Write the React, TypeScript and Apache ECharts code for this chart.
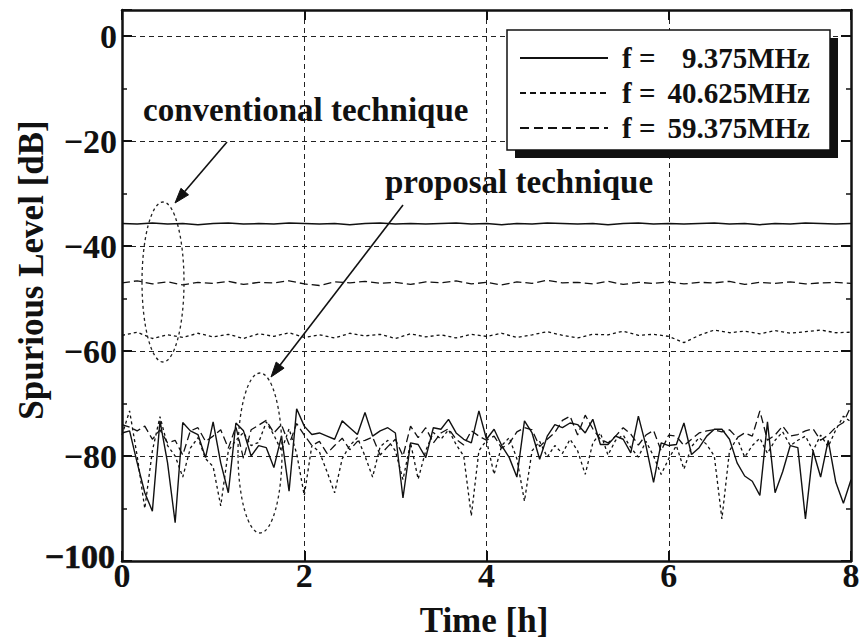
import React, { useEffect, useRef } from "react";
import * as echarts from "echarts";

const FONT = "'Liberation Serif', 'Times New Roman', Times, serif";

// sampling intervals in hours
const SAMPLE_STEP_H = 1 / 12; // proposal technique: every 5 min
const CONV_STEP_H = 1 / 6; // conventional technique: every 10 min

const LEGEND_LABELS = ["9.375MHz", "40.625MHz", "59.375MHz"];
const Y_MIN_LABEL = "\u2212100";

// Proposal technique, f = 9.375 MHz (solid)
const prop9 = [
  -75.6, -75.2, -81.3, -87.0, -90.5, -73.3, -81.3, -92.7, -73.6, -75.2, -75.9, -80.3,
  -73.5, -81.3, -87.0, -73.7, -75.2, -80.0, -78.0, -78.4, -82.2, -76.2, -86.7, -71.0,
  -74.3, -75.9, -75.6, -76.2, -76.8, -73.3, -74.6, -75.9, -71.7, -76.2, -75.2, -74.6,
  -75.6, -88.0, -77.5, -77.8, -80.3, -74.6, -74.9, -73.0, -75.6, -76.8, -77.5, -71.4,
  -76.8, -74.9, -78.0, -80.3, -84.0, -73.3, -75.6, -80.6, -76.2, -74.0, -74.6, -73.7,
  -74.0, -75.6, -73.0, -77.8, -77.8, -76.2, -76.8, -79.4, -72.4, -78.0, -85.0, -77.5,
  -78.0, -77.8, -73.7, -79.7, -78.4, -76.2, -74.9, -74.9, -76.8, -81.3, -83.8, -84.8,
  -87.5, -73.5, -87.0, -83.0, -78.0, -78.4, -92.0, -79.0, -84.0, -77.0, -85.0, -89.0,
  -84.5,
];

// Proposal technique, f = 40.625 MHz (dotted)
const prop40 = [
  -76.0, -71.4, -80.0, -90.0, -79.0, -72.5, -78.0, -80.0, -84.0, -78.5, -76.5, -80.5,
  -82.0, -89.5, -79.0, -77.0, -75.5, -78.0, -77.4, -73.5, -76.0, -79.0, -74.8, -79.5,
  -87.5, -78.0, -79.2, -83.0, -87.0, -80.5, -78.0, -76.5, -80.0, -84.0, -78.2, -77.0,
  -79.0, -84.5, -77.5, -84.4, -79.0, -75.5, -76.8, -75.0, -77.8, -80.0, -91.4, -79.0,
  -77.0, -83.5, -78.0, -76.5, -80.5, -88.6, -79.0, -77.2, -80.2, -78.0, -79.5, -76.8,
  -79.0, -83.5, -77.5, -75.6, -79.8, -77.0, -76.0, -78.4, -80.2, -77.2, -80.0, -83.5,
  -80.5, -78.0, -82.5, -78.2, -76.5, -77.8, -80.0, -92.0, -79.0, -76.6, -80.2, -78.0,
  -76.6, -79.5, -77.0, -75.4, -78.0, -77.0, -76.2, -79.0, -76.0, -78.2, -75.0, -72.4,
  -73.5,
];

// Proposal technique, f = 59.375 MHz (dashed)
const prop59 = [
  -74.0, -74.5, -75.2, -74.3, -76.8, -75.0, -77.5, -77.0, -79.8, -75.2, -74.6, -77.2,
  -76.2, -75.0, -78.5, -74.4, -80.5, -75.0, -74.1, -73.2, -75.6, -74.0, -77.8, -73.8,
  -76.0, -78.0, -77.2, -79.5, -78.0, -76.6, -78.8, -77.2, -77.0, -76.4, -79.8, -78.2,
  -76.8, -80.0, -74.3, -76.5, -74.6, -77.5, -75.6, -74.8, -76.8, -77.9, -75.2, -76.2,
  -77.0, -76.2, -78.5, -77.6, -75.4, -74.6, -75.0, -78.2, -76.8, -75.5, -73.2, -72.4,
  -76.0, -72.2, -74.8, -76.8, -77.5, -76.2, -74.6, -75.8, -77.9, -76.0, -75.1, -79.0,
  -76.0, -76.2, -78.0, -76.8, -75.6, -75.2, -75.0, -75.4, -75.0, -76.5, -75.6, -76.2,
  -71.4, -77.0, -76.0, -74.3, -76.2, -75.9, -75.2, -74.8, -77.0, -76.0, -74.5, -73.6,
  -70.5,
];

// Conventional technique, f = 9.375 MHz (solid)
const conv9 = [
  -35.7, -35.8, -35.6, -35.8, -35.7, -35.9, -35.7, -35.6, -35.8, -35.7, -35.8, -35.6,
  -35.7, -35.8, -35.7, -35.9, -35.7, -35.6, -35.8, -35.7, -35.8, -35.7, -35.6, -35.8,
  -35.7, -35.9, -35.7, -35.8, -35.6, -35.7, -35.8, -35.7, -35.9, -35.7, -35.6, -35.8,
  -35.7, -35.8, -35.7, -35.6, -35.8, -35.7, -35.9, -35.7, -35.8, -35.6, -35.7, -35.8,
  -35.7,
];

// Conventional technique, f = 40.625 MHz (dotted)
const conv40 = [
  -57.0, -56.4, -57.6, -56.9, -57.4, -56.6, -57.3, -56.8, -57.6, -56.7, -57.2, -56.5,
  -57.4, -56.9, -57.5, -56.6, -57.1, -56.8, -57.6, -56.7, -57.3, -56.9, -57.5, -56.8,
  -57.2, -56.6, -57.4, -56.9, -56.3, -57.0, -57.5, -56.8, -56.9, -56.2, -57.0, -56.8,
  -57.2, -58.4, -57.0, -56.0, -56.5, -56.2, -56.7, -56.1, -56.6, -56.3, -56.0, -56.5,
  -56.4,
];

// Conventional technique, f = 59.375 MHz (dashed)
const conv59 = [
  -47.0, -46.6, -47.2, -46.8, -47.4, -46.9, -47.1, -46.7, -47.3, -46.9, -47.0, -46.6,
  -47.2, -47.5, -46.8, -47.0, -46.7, -47.1, -46.9, -47.3, -46.8, -47.0, -46.6, -47.2,
  -46.9, -47.4, -46.8, -47.1, -46.5, -47.0, -46.9, -47.2, -46.7, -47.3, -46.9, -47.1,
  -46.8, -47.2, -46.9, -47.0, -46.7, -47.3, -46.9, -47.1, -46.8, -47.2, -47.0, -46.9,
  -47.1,
];

const DASH_DOTTED = [3, 3];
const DASH_DASHED = [8, 4];

function toPairs(vals: number[], step: number) {
  return vals.map((v, i) => [i * step, v]);
}

function arrow(x1: number, y1: number, x2: number, y2: number) {
  const dx = x2 - x1;
  const dy = y2 - y1;
  const L = Math.hypot(dx, dy);
  const ux = dx / L;
  const uy = dy / L;
  const len = 15;
  const half = 5;
  const bx = x2 - ux * len;
  const by = y2 - uy * len;
  const px = -uy;
  const py = ux;
  return [
    {
      type: "line",
      z: 90,
      shape: { x1, y1, x2: bx, y2: by },
      style: { stroke: "#111", lineWidth: 1.6 },
    },
    {
      type: "polygon",
      z: 90,
      shape: {
        points: [
          [x2, y2],
          [bx + px * half, by + py * half],
          [bx - px * half, by - py * half],
        ],
      },
      style: { fill: "#111", stroke: "#111", lineWidth: 1 },
    },
  ];
}

export default function App() {
  const ref = useRef<HTMLDivElement>(null);

  useEffect(() => {
    if (!ref.current) return;
    const chart = echarts.init(ref.current, null, { renderer: "svg" });

    const axisLine = { show: true, onZero: false, lineStyle: { color: "#111", width: 2.5 } };
    const axisTick = { show: true, inside: true, length: 10, lineStyle: { color: "#111", width: 2 } };
    const minorTick = { show: true, splitNumber: 2, length: 5, lineStyle: { color: "#111", width: 1.5 } };
    const gridLine = { show: true, lineStyle: { color: "#222", width: 1, type: [5, 4] } };
    const labelStyle = { fontSize: 34, fontWeight: "bold", fontFamily: FONT, color: "#111" };

    const lineSeries = (data: number[][], type: any, width = 1.3) => ({
      type: "line",
      data,
      showSymbol: false,
      symbol: "none",
      silent: true,
      lineStyle: { color: "#111", width, type },
      z: 5,
    });

    const legendX0 = 507;
    const legendY0 = 30;
    const legendW = 323;
    const legendH = 120;
    const rowY = [58, 93, 128];
    const rowDash: any[] = [null, [6, 4], [9, 5]];

    const legendGraphics: any[] = [
      {
        type: "rect",
        z: 100,
        shape: { x: legendX0 + 8, y: legendY0 + 8, width: legendW, height: legendH },
        style: { fill: "#111" },
      },
      {
        type: "rect",
        z: 101,
        shape: { x: legendX0, y: legendY0, width: legendW, height: legendH },
        style: { fill: "#fff", stroke: "#111", lineWidth: 1.5 },
      },
    ];
    LEGEND_LABELS.forEach((lab, i) => {
      legendGraphics.push({
        type: "line",
        z: 102,
        shape: { x1: 520, y1: rowY[i], x2: 608, y2: rowY[i] },
        style: { stroke: "#111", lineWidth: 1.8, lineDash: rowDash[i] },
      });
      legendGraphics.push({
        type: "text",
        z: 102,
        x: 622,
        y: rowY[i],
        style: {
          text: "f =",
          fontSize: 29,
          fontWeight: "bold",
          fontFamily: FONT,
          fill: "#111",
          textAlign: "left",
          textVerticalAlign: "middle",
        },
      });
      legendGraphics.push({
        type: "text",
        z: 102,
        x: 810,
        y: rowY[i],
        style: {
          text: lab,
          fontSize: 29,
          fontWeight: "bold",
          fontFamily: FONT,
          fill: "#111",
          textAlign: "right",
          textVerticalAlign: "middle",
        },
      });
    });

    const textStyle = (text: string, size: number, align = "left") => ({
      text,
      fontSize: size,
      fontWeight: "bold",
      fontFamily: FONT,
      fill: "#111",
      textAlign: align,
      textVerticalAlign: "middle",
    });

    const option: any = {
      animation: false,
      backgroundColor: "#fff",
      grid: { left: 122, right: 13, top: 10, bottom: 83, containLabel: false },
      xAxis: [
        {
          type: "value",
          min: 0,
          max: 8,
          interval: 2,
          position: "bottom",
          axisLine,
          axisTick,
          axisLabel: { ...labelStyle, margin: -3 },
          splitLine: gridLine,
        },
        {
          type: "value",
          min: 0,
          max: 8,
          interval: 2,
          position: "top",
          axisLine,
          axisTick,
          axisLabel: { show: false },
          splitLine: { show: false },
        },
      ],
      yAxis: [
        {
          type: "value",
          min: -100,
          max: 5,
          interval: 20,
          position: "left",
          axisLine,
          axisTick,
          minorTick,
          axisLabel: {
            ...labelStyle,
            margin: 5,
            // the bottom label (−100) is drawn separately, lifted slightly as in the original
            formatter: (v: number) => (v > 0 || v === -100 ? "" : String(v).replace("-", "\u2212")),
          },
          splitLine: gridLine,
        },
        {
          type: "value",
          min: -100,
          max: 5,
          interval: 20,
          position: "right",
          axisLine,
          axisTick,
          minorTick,
          axisLabel: { show: false },
          splitLine: { show: false },
        },
      ],
      series: [
        lineSeries(toPairs(conv9, CONV_STEP_H), "solid", 1.5),
        lineSeries(toPairs(conv59, CONV_STEP_H), DASH_DASHED),
        lineSeries(toPairs(conv40, CONV_STEP_H), DASH_DOTTED),
        lineSeries(toPairs(prop59, SAMPLE_STEP_H), DASH_DASHED),
        lineSeries(toPairs(prop40, SAMPLE_STEP_H), DASH_DOTTED),
        lineSeries(toPairs(prop9, SAMPLE_STEP_H), "solid", 1.4),
      ],
      graphic: [
        ...legendGraphics,
        {
          type: "text",
          z: 90,
          x: 115,
          y: 556,
          style: { ...textStyle(Y_MIN_LABEL, 34, "right"), stroke: "#111", lineWidth: 0.6 },
        },
        { type: "text", z: 90, x: 143, y: 110, style: textStyle("conventional technique", 33) },
        { type: "text", z: 90, x: 385, y: 182, style: textStyle("proposal technique", 33) },
        ...arrow(227, 142, 175, 203),
        ...arrow(403, 205, 271, 377),
        {
          type: "ellipse",
          z: 90,
          shape: { cx: 163, cy: 282, rx: 21, ry: 80 },
          style: { fill: "none", stroke: "#222", lineWidth: 1.3, lineDash: [3, 3] },
        },
        {
          type: "ellipse",
          z: 90,
          shape: { cx: 260, cy: 453, rx: 22, ry: 80 },
          style: { fill: "none", stroke: "#222", lineWidth: 1.3, lineDash: [3, 3] },
        },
        { type: "text", z: 90, x: 484, y: 620, style: textStyle("Time [h]", 35, "center") },
        {
          type: "text",
          z: 90,
          x: 31,
          y: 270,
          rotation: Math.PI / 2,
          style: textStyle("Spurious Level [dB]", 35, "center"),
        },
      ],
    };

    chart.setOption(option);
    return () => chart.dispose();
  }, []);

  return (
    <div
      ref={ref}
      style={{ position: "fixed", left: 0, top: 0, width: 864, height: 644, background: "#fff" }}
    />
  );
}
